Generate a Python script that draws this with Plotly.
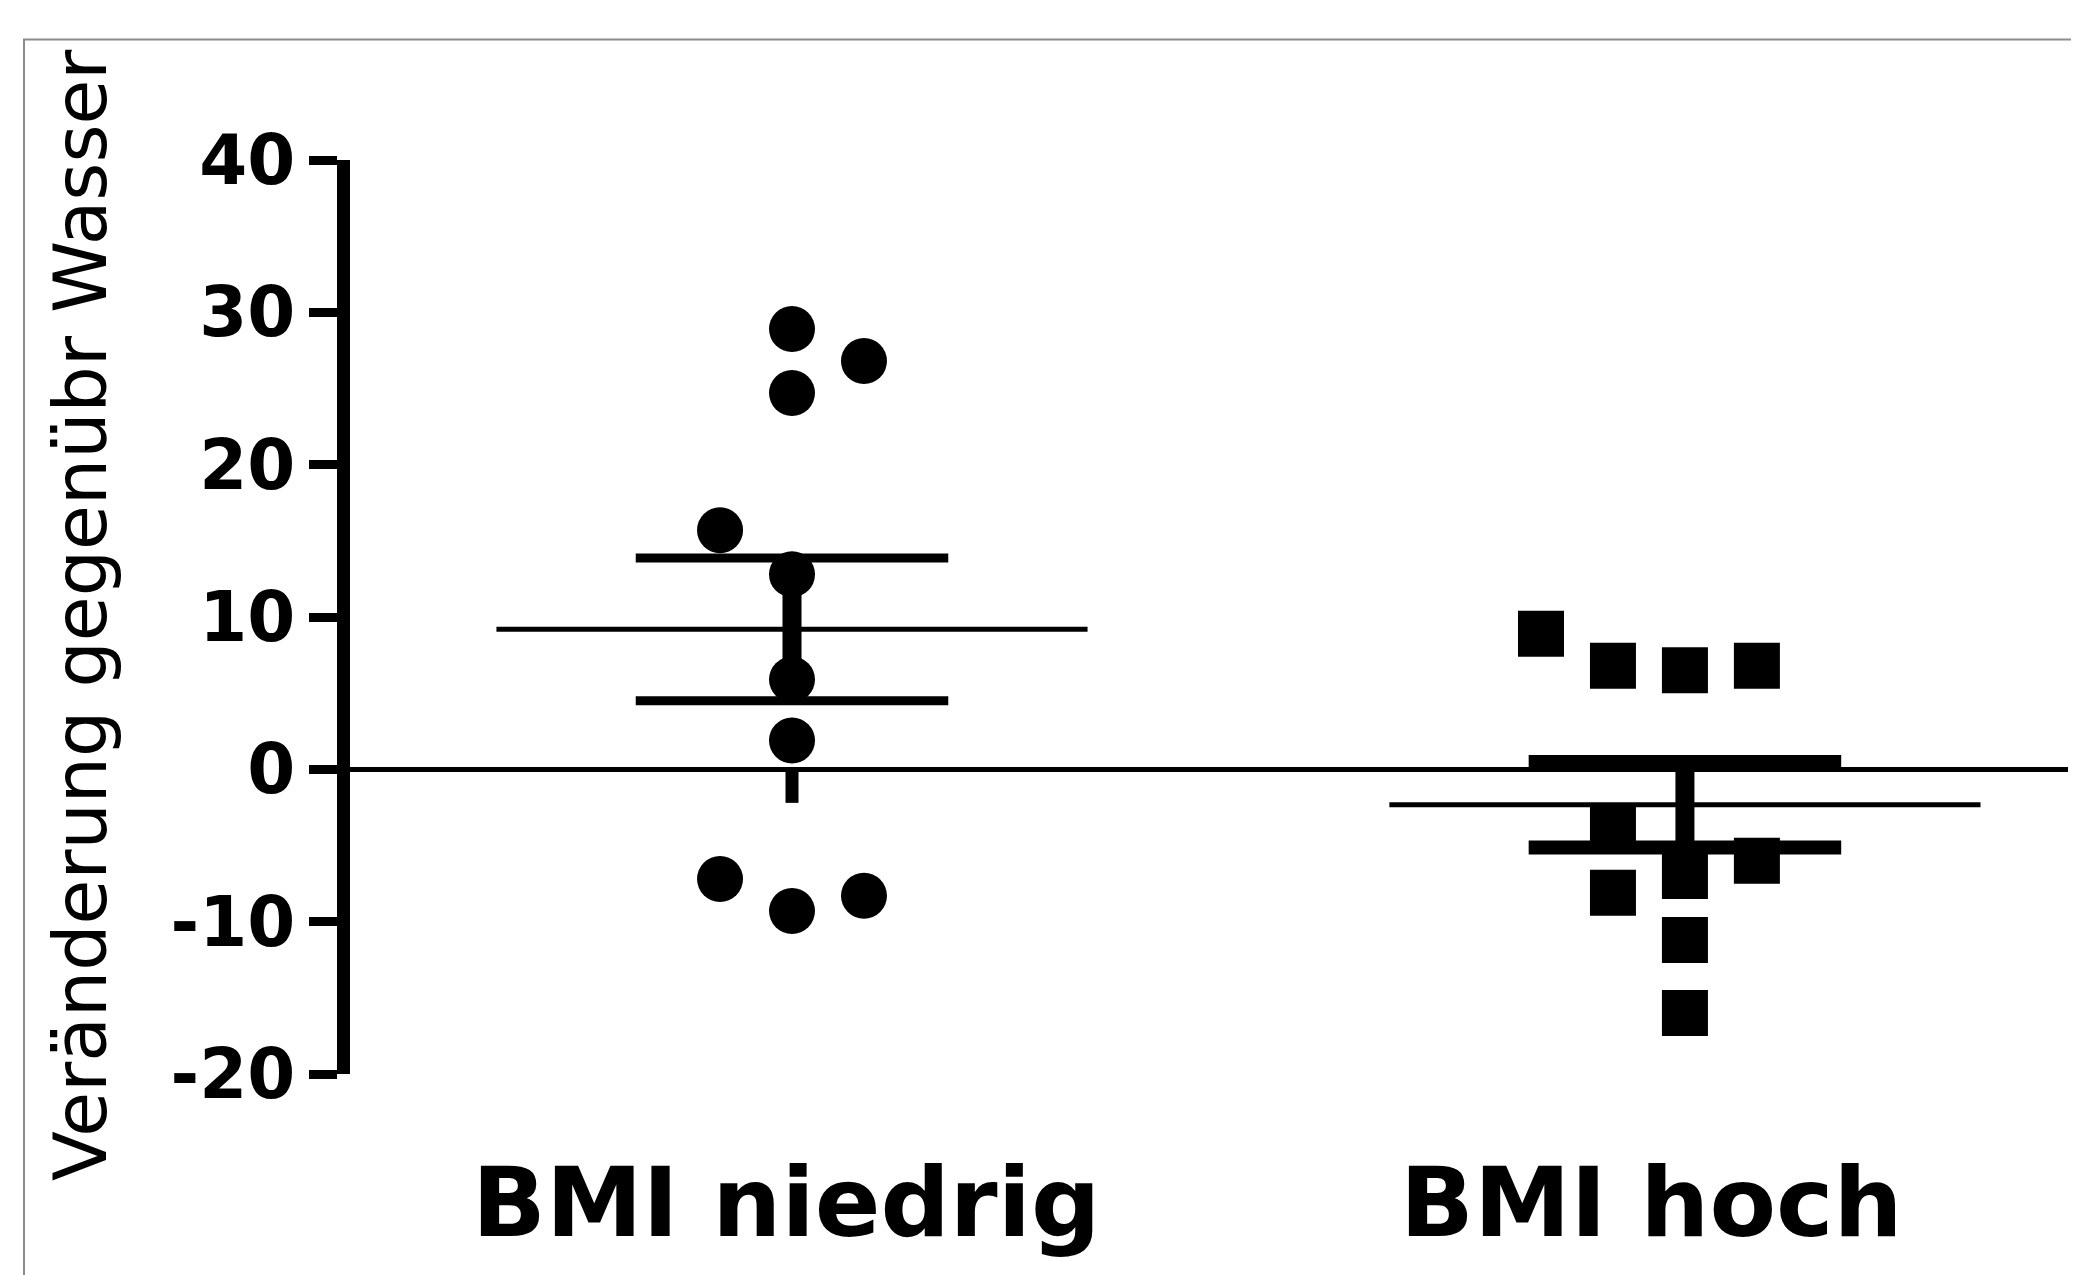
import numpy as np
import plotly.graph_objects as go

# ---------------- data ----------------
categories = ["BMI niedrig", "BMI hoch"]
niedrig_values = [28.9, 26.8, 24.7, 15.7, 12.8, 5.9, 1.9, -7.2, -9.3, -8.3]
niedrig_columns = [0, 1, 0, -1, 0, 0, 0, -1, 0, 1]
hoch_values = [8.9, 6.8, 6.5, 6.8, -3.9, -8.1, -7.0, -6.0, -11.2, -16.0]
hoch_columns = [-2, -1, 0, 1, -1, -1, 0, 1, 0, 0]
niedrig_stub = [0, -2.2]
y_tick_values = [-20, -10, 0, 10, 20, 30, 40]
y_tick_labels = ["-20", "-10", "0", "10", "20", "30", "40"]
y_title = "Veränderung gegenübr Wasser"

# ---------------- style ----------------
COL_STEP = 0.0806
MEAN_HALF = 0.331
CAP_HALF = 0.175
FONT = "DejaVu Sans"

groups = [
    dict(values=niedrig_values, cols=niedrig_columns, symbol="circle", cap_w=9, size=46),
    dict(values=hoch_values, cols=hoch_columns, symbol="square", cap_w=14, size=46),
]

fig = go.Figure()

for i, g in enumerate(groups):
    c = i + 1
    vals = np.array(g["values"], dtype=float)
    m = vals.mean()
    sem = vals.std(ddof=1) / np.sqrt(len(vals))
    # mean line
    fig.add_trace(go.Scatter(x=[c - MEAN_HALF, c + MEAN_HALF], y=[m, m], mode="lines",
                             line=dict(color="black", width=5), hoverinfo="skip"))
    # vertical SEM bar
    fig.add_trace(go.Scatter(x=[c, c], y=[m - sem, m + sem], mode="lines",
                             line=dict(color="black", width=19), hoverinfo="skip"))
    # caps
    for yv in (m - sem, m + sem):
        fig.add_trace(go.Scatter(x=[c - CAP_HALF, c + CAP_HALF], y=[yv, yv], mode="lines",
                                 line=dict(color="black", width=g["cap_w"]), hoverinfo="skip"))
    # points
    xs = [c + k * COL_STEP for k in g["cols"]]
    fig.add_trace(go.Scatter(x=xs, y=vals, mode="markers",
                             marker=dict(symbol=g["symbol"], size=g["size"], color="black",
                                         line=dict(width=0)),
                             name=categories[i]))

# short stub below zero in the first group
fig.add_trace(go.Scatter(x=[1, 1], y=niedrig_stub, mode="lines",
                         line=dict(color="black", width=13), hoverinfo="skip"))

# page body has an 8px margin, so the figure is drawn 8px smaller / shifted
W, H = 2071, 1267
L, R, T, B = 342, 11, 152, 201
pw, ph = W - L - R, H - T - B

fig.update_layout(
    width=W, height=H,
    margin=dict(l=L, r=R, t=T, b=B, autoexpand=False),
    plot_bgcolor="white", paper_bgcolor="white",
    showlegend=False,
    xaxis=dict(range=[0.505, 2.429], showline=False, showticklabels=False,
               showgrid=False, zeroline=False, ticks=""),
    yaxis=dict(range=[-20, 40], showline=True, linewidth=13, linecolor="black",
               ticks="outside", ticklen=28, tickwidth=9, tickcolor="black",
               tickvals=y_tick_values, ticktext=y_tick_labels,
               tickfont=dict(family=FONT, size=69, color="black", weight="bold"),
               showgrid=False, zeroline=True, zerolinecolor="black", zerolinewidth=5),
)

# outer gray frame
fig.add_shape(type="rect", xref="paper", yref="paper",
              x0=(16 - L) / pw, x1=1.1, y0=-0.4, y1=(T + ph - 31.5) / ph,
              line=dict(color="#8c8c8c", width=2), fillcolor="rgba(0,0,0,0)", layer="below")

# y-axis title
fig.add_annotation(text=y_title, textangle=-90, showarrow=False,
                   xref="paper", yref="paper", x=0, y=(T + ph - 607) / ph,
                   xanchor="center", yanchor="middle", xshift=72 - L,
                   font=dict(family=FONT, size=73, color="black"))

# category labels
label_shift = [-6, -33]
for i, cat in enumerate(categories):
    fig.add_annotation(text=cat, showarrow=False, xref="x", yref="paper",
                       x=i + 1, y=0, xanchor="center", yanchor="top",
                       xshift=label_shift[i], yshift=-70,
                       font=dict(family=FONT, size=97, color="black", weight="bold"))

fig.write_html("out.html")
